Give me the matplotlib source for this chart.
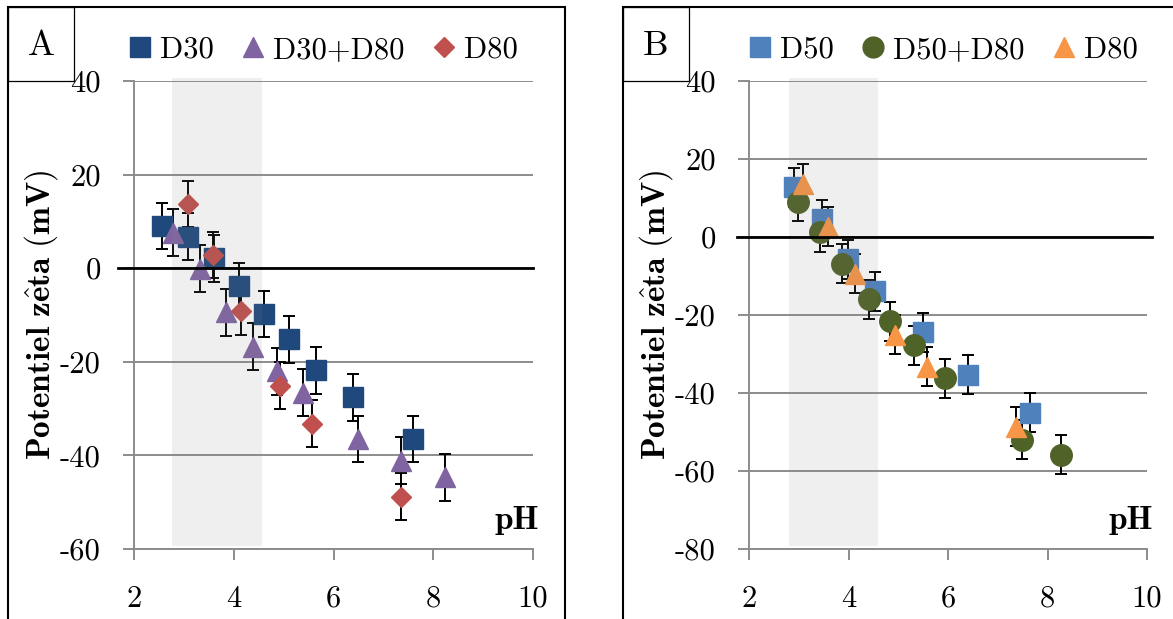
"""
plot.py - zeta potential vs pH, two panels (A: D30 series, B: D50 series).
"""

import matplotlib
matplotlib.use('Agg')
import matplotlib.pyplot as plt
from matplotlib.lines import Line2D
from matplotlib.patches import Rectangle

plt.rcParams['font.family'] = 'cmr10'
plt.rcParams['mathtext.fontset'] = 'cm'
plt.rcParams['axes.unicode_minus'] = False
plt.rcParams['axes.formatter.use_mathtext'] = True

# ---------------------------------------------------------------------------
# Data
# ---------------------------------------------------------------------------

# Panel A
d30_ph   = [2.57, 3.09, 3.60, 4.11, 4.60, 5.10, 5.65, 6.40, 7.59]
d30_zeta = [9.0, 6.7, 2.1, -3.9, -9.8, -15.2, -21.8, -27.6, -36.5]
d30_err  = [5, 5, 5, 5, 5, 5, 5, 5, 5]

d30_d80_ph   = [2.79, 3.32, 3.85, 4.38, 4.87, 5.39, 6.49, 7.35, 8.24]
d30_d80_zeta = [7.6, -0.1, -9.4, -16.8, -22.0, -26.6, -36.5, -41.1, -44.7]
d30_d80_err  = [5, 5, 5, 5, 5, 5, 5, 5, 5]

a_d80_ph   = [3.09, 3.59, 4.14, 4.93, 5.56, 7.35]
a_d80_zeta = [13.7, 2.8, -9.2, -25.1, -33.2, -48.8]
a_d80_err  = [5, 5, 5, 5, 5, 5]

# Panel B
d50_ph   = [2.90, 3.46, 3.99, 4.53, 5.50, 6.40, 7.64]
d50_zeta = [12.8, 4.6, -5.7, -13.9, -24.4, -35.3, -45.0]
d50_err  = [5, 5, 5, 5, 5, 5, 5]

d50_d80_ph   = [2.98, 3.42, 3.87, 4.42, 4.84, 5.31, 5.94, 7.49, 8.28]
d50_d80_zeta = [9.1, 1.2, -6.9, -16.0, -21.6, -27.8, -36.2, -52.0, -55.8]
d50_d80_err  = [5, 5, 5, 5, 5, 5, 5, 5, 5]

b_d80_ph   = [3.08, 3.59, 4.13, 4.93, 5.57, 7.36]
b_d80_zeta = [13.7, 2.6, -9.4, -25.0, -33.3, -48.7]
b_d80_err  = [5, 5, 5, 5, 5, 5]

x_ticks  = [2, 4, 6, 8, 10]
a_yticks = [-60, -40, -20, 0, 20, 40]
b_yticks = [-80, -60, -40, -20, 0, 20, 40]

a_shade = (2.76, 4.57)
b_shade = (2.81, 4.60)

GRID = '#8c8c8c'
FS   = 22


# ---------------------------------------------------------------------------
# Helpers
# ---------------------------------------------------------------------------

def draw_series(ax, x, y, err, color, marker, ms):
    ax.errorbar(x, y, yerr=err, fmt=marker, color=color, ms=ms, mec=color,
                ecolor='black', elinewidth=1.4, capsize=4, capthick=1.4,
                zorder=3)


def style_axis(ax, yticks, shade, zero_span):
    ax.set_xlim(2, 10)
    ax.set_ylim(yticks[0], yticks[-1])
    ax.set_xticks(x_ticks)
    ax.set_xticklabels([str(v) for v in x_ticks])
    ax.set_yticks(yticks)
    ax.set_yticklabels([str(v) for v in yticks])
    ax.grid(axis='y', color=GRID, lw=1.4, zorder=0.5)
    ax.set_axisbelow(True)
    for side in ('top', 'right'):
        ax.spines[side].set_visible(False)
    for side in ('left', 'bottom'):
        ax.spines[side].set_color(GRID)
        ax.spines[side].set_linewidth(1.4)
    ax.tick_params(axis='y', direction='out', length=8, width=1.4, color=GRID,
                   pad=16, labelsize=FS)
    ax.tick_params(axis='x', direction='out', length=8, width=1.4, color=GRID,
                   pad=18, labelsize=FS)

    # translucent grey band over the markers
    ax.axvspan(shade[0], shade[1], ymin=0.006, ymax=1.006, color='#808080',
               alpha=0.12, lw=0, zorder=5, clip_on=False)
    # black zero line, drawn on top
    ax.plot(zero_span, [0, 0], color='black', lw=2, zorder=6, clip_on=False,
            transform=ax.get_yaxis_transform())

    ax.text(-0.233, 0.5, r'$\mathbf{Potentiel\ z\hat{e}ta\ (mV)}$',
            rotation=90, ha='center', va='center', fontsize=24,
            transform=ax.transAxes)
    ax.text(1.015, 0.043, 'pH', family='cmb10', fontsize=24, ha='right',
            va='baseline', transform=ax.transAxes)


def panel_frame(fig, x0, label):
    W, H = fig.bbox.width, fig.bbox.height
    fig.add_artist(Rectangle((x0 / W, -0.05), 557 / W, 1.05 - 7 / H,
                             transform=fig.transFigure, fill=False,
                             ec='black', lw=1.5))
    fig.add_artist(Rectangle((x0 / W, 1 - 81 / H), 66 / W, 74 / H,
                             transform=fig.transFigure, fill=False,
                             ec='black', lw=0.9))
    fig.text((x0 + 33) / W, 1 - 46 / H, label, fontsize=26,
             ha='center', va='center')


def legend(fig, x_left, handles, labels):
    fig.legend(handles, labels, loc='center left',
               bbox_to_anchor=(x_left / 1173, 1 - 50 / 619), ncol=3,
               frameon=False, fontsize=FS, borderpad=0, borderaxespad=0,
               handlelength=0.7, handletextpad=0.3, columnspacing=0.95)


def proxy(color, marker, ms):
    return Line2D([], [], ls='none', marker=marker, color=color, mec=color, ms=ms)


# ---------------------------------------------------------------------------
# Figure
# ---------------------------------------------------------------------------

fig = plt.figure(figsize=(11.73, 6.19), dpi=100)
ax_a = fig.add_axes([134 / 1173, 1 - 549 / 619, 399 / 1173, 468 / 619])
ax_b = fig.add_axes([749 / 1173, 1 - 549 / 619, 398 / 1173, 468 / 619])

# ── Panel A ────────────────────────────────────────────────────────────
c_d30, c_mix_a, c_d80_a = '#1F497D', '#8064A2', '#C0504D'
draw_series(ax_a, d30_ph, d30_zeta, d30_err, c_d30, 's', 14.5)
draw_series(ax_a, d30_d80_ph, d30_d80_zeta, d30_d80_err, c_mix_a, '^', 14.5)
draw_series(ax_a, a_d80_ph, a_d80_zeta, a_d80_err, c_d80_a, 'D', 10)
style_axis(ax_a, a_yticks, a_shade, [-0.04, 1.0])
panel_frame(fig, 8, 'A')
legend(fig, 129,
       [proxy(c_d30, 's', 15), proxy(c_mix_a, '^', 15), proxy(c_d80_a, 'D', 10)],
       ['D30', 'D30+D80', 'D80'])

# ── Panel B ────────────────────────────────────────────────────────────
c_d50, c_mix_b, c_d80_b = '#4F81BD', '#4F6228', '#F79646'
draw_series(ax_b, d50_ph, d50_zeta, d50_err, c_d50, 's', 14.5)
draw_series(ax_b, d50_d80_ph, d50_d80_zeta, d50_d80_err, c_mix_b, 'o', 15.5)
draw_series(ax_b, b_d80_ph, b_d80_zeta, b_d80_err, c_d80_b, '^', 14.5)
style_axis(ax_b, b_yticks, b_shade, [-0.03, 1.012])
panel_frame(fig, 623, 'B')
legend(fig, 749,
       [proxy(c_d50, 's', 15), proxy(c_mix_b, 'o', 15), proxy(c_d80_b, '^', 15)],
       ['D50', 'D50+D80', 'D80'])

fig.savefig('out.png', dpi=100)
